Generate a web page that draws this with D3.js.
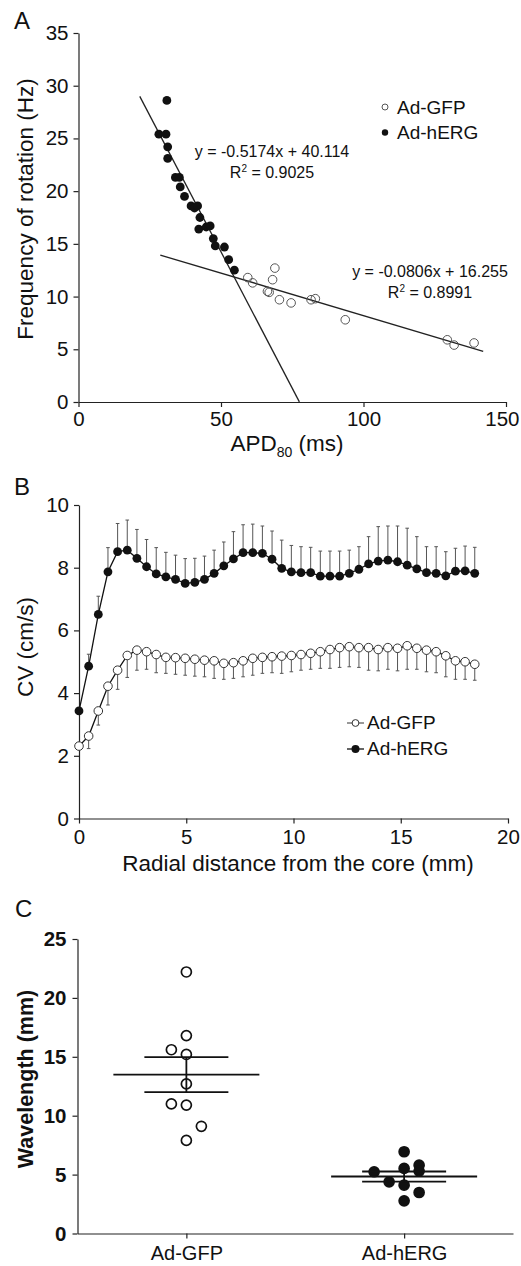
<!DOCTYPE html>
<html>
<head>
<meta charset="utf-8">
<script src="https://cdn.jsdelivr.net/npm/d3@7"></script>
<style>
body { margin: 0; background: #fff; }
svg { display: block; font-family: "Liberation Sans", Arial, sans-serif; }
.axis path, .axis line { stroke: #222; stroke-width: 1.2; }
.axis text { fill: #111; font-size: 20.5px; font-family: "Liberation Sans", Arial, sans-serif; }
.boldticks text { font-weight: bold; }
</style>
</head>
<body>
<div id="chart"></div>
<script>
/*
 Panel A - frequency of rotation vs APD80
 */
var hergApd  = [31.0, 28.2, 30.7, 31.3, 31.3, 34.0, 35.4, 35.7, 37.2, 39.5, 40.7, 41.8, 42.6, 42.2, 44.8, 46.2, 47.3, 48.0, 51.2, 52.7, 54.7];
var hergFreq = [28.6, 25.4, 25.4, 24.2, 23.1, 21.3, 21.3, 20.4, 19.5, 18.6, 18.4, 18.6, 17.5, 16.4, 16.6, 16.7, 15.5, 14.8, 14.7, 13.5, 12.5];
var gfpApd   = [59.4, 61.1, 68.9, 68.1, 66.3, 66.9, 70.5, 74.6, 81.6, 83.1, 93.6, 129.4, 131.8, 138.8];
var gfpFreq  = [11.8, 11.3, 12.7, 11.6, 10.5, 10.4, 9.7, 9.4, 9.7, 9.8, 7.8, 5.9, 5.4, 5.6];

// linear fits: [hERG, GFP]
var fitSlope     = [-0.5174, -0.0806];
var fitIntercept = [40.114, 16.255];
var fitFrom      = [21.5, 28.7];
var fitTo        = [77.5, 142];
var fitEq        = ["y = -0.5174x + 40.114", "y = -0.0806x + 16.255"];
var fitR2        = ["0.9025", "0.8991"];

var aXTicks = [0, 50, 100, 150];
var aYTicks = [0, 5, 10, 15, 20, 25, 30, 35];

/*
 Panel B - CV vs radial distance
 */
var dist = [0, 0.45, 0.9, 1.35, 1.8, 2.25, 2.7, 3.15, 3.6, 4.05, 4.5, 4.95, 5.4, 5.85, 6.3, 6.75, 7.2, 7.65, 8.1, 8.55, 9,
            9.45, 9.9, 10.35, 10.8, 11.25, 11.7, 12.15, 12.6, 13.05, 13.5, 13.95, 14.4, 14.85, 15.3, 15.75, 16.2, 16.65, 17.1, 17.55, 18, 18.45];
var hergCV  = [3.43, 4.86, 6.51, 7.87, 8.51, 8.56, 8.30, 8.03, 7.80, 7.71, 7.63, 7.50, 7.53, 7.63, 7.82, 8.06, 8.28, 8.48, 8.48, 8.46, 8.27,
               7.98, 7.87, 7.84, 7.84, 7.73, 7.73, 7.73, 7.82, 7.95, 8.12, 8.21, 8.24, 8.19, 8.08, 7.96, 7.84, 7.82, 7.74, 7.89, 7.90, 7.82];
var hergSem = [0.10, 0.38, 0.58, 0.77, 0.90, 0.96, 0.92, 0.87, 0.84, 0.78, 0.77, 0.79, 0.77, 0.74, 0.74, 0.76, 0.87, 0.89, 0.91, 0.87, 0.90,
               0.90, 0.84, 0.83, 0.81, 0.80, 0.80, 0.80, 0.74, 0.72, 0.87, 1.10, 1.09, 1.14, 1.18, 1.03, 0.83, 0.85, 0.77, 0.73, 0.79, 0.83];
var gfpCV   = [2.31, 2.63, 3.43, 4.22, 4.73, 5.20, 5.37, 5.32, 5.23, 5.14, 5.13, 5.11, 5.08, 5.05, 5.03, 4.95, 4.97, 5.03, 5.11, 5.14, 5.16,
               5.18, 5.20, 5.23, 5.27, 5.32, 5.39, 5.45, 5.48, 5.45, 5.45, 5.39, 5.45, 5.43, 5.51, 5.43, 5.37, 5.32, 5.19, 5.03, 5.00, 4.92];
var gfpSem  = [0.10, 0.40, 0.45, 0.60, 0.61, 0.70, 0.64, 0.56, 0.58, 0.51, 0.53, 0.54, 0.54, 0.53, 0.56, 0.51, 0.50, 0.51, 0.54, 0.51, 0.51,
               0.55, 0.52, 0.50, 0.51, 0.53, 0.60, 0.63, 0.64, 0.63, 0.72, 0.68, 0.69, 0.72, 0.75, 0.67, 0.69, 0.67, 0.67, 0.59, 0.56, 0.51];

var bXTicks = [0, 5, 10, 15, 20];
var bYTicks = [0, 2, 4, 6, 8, 10];

/*
 Panel C - wavelength
 */
var groups = ["Ad-GFP", "Ad-hERG"];
var gfpWL   = [22.2, 16.8, 15.6, 15.2, 12.7, 11.0, 10.9, 9.1, 7.9];
var gfpCol  = [0, 0, -1, 0, 0, -1, 0, 1, 0];   // dot column inside the group
var hergWL  = [6.94, 5.24, 5.52, 5.80, 5.30, 4.39, 4.10, 3.48, 2.77];
var hergCol = [0, -2, 0, 1, 1, -1, 0, 1, 0];
var cYTicks = [0, 5, 10, 15, 20, 25];

var svg = d3.select("#chart")
    .append("svg")
    .attr("width", 521)
    .attr("height", 1266);

svg.append("rect").attr("width", 521).attr("height", 1266).attr("fill", "#fff");

function label(x, y, txt, size, weight) {
    return svg.append("text")
        .attr("x", x).attr("y", y)
        .style("font-size", size + "px")
        .style("font-weight", weight || "normal")
        .style("fill", "#111")
        .text(txt);
}

// ---------------- A ----------------
var xA = d3.scaleLinear().domain([0, 150]).range([78.5, 506]);
var yA = d3.scaleLinear().domain([0, 35]).range([402, 33]);

var xAxisA = svg.append("g").attr("class", "axis")
    .attr("transform", "translate(0,402)")
    .call(d3.axisBottom(xA).tickValues(aXTicks).tickSize(5).tickSizeOuter(0).tickPadding(4));
// last label sits against the right edge
xAxisA.selectAll(".tick text")
    .filter(function(d) { return d === 150; })
    .attr("text-anchor", "end")
    .attr("dx", 13);
svg.append("g").attr("class", "axis")
    .attr("transform", "translate(78.5,0)")
    .call(d3.axisLeft(yA).tickValues(aYTicks).tickSize(5).tickSizeOuter(0).tickPadding(5));

label(14, 29, "A", 24);
label(0, 0, "Frequency of rotation (Hz)", 22.5)
    .attr("transform", "translate(33,209) rotate(-90)")
    .attr("x", 0).attr("y", 0)
    .attr("text-anchor", "middle");

var apdTitle = label(287, 451, "APD", 22.5).attr("text-anchor", "middle");
apdTitle.append("tspan").attr("dy", 6).style("font-size", "14px").text("80");
apdTitle.append("tspan").attr("dy", -6).text(" (ms)");

// fit lines
var lineA = d3.line().x(function(d) { return xA(d[0]); }).y(function(d) { return yA(d[1]); });
fitSlope.forEach(function(s, i) {
    var pts = [fitFrom[i], fitTo[i]].map(function(x) { return [x, s * x + fitIntercept[i]]; });
    svg.append("path")
        .attr("d", lineA(pts))
        .attr("fill", "none")
        .attr("stroke", "#222")
        .attr("stroke-width", 1.3);
});

svg.selectAll(".gfpA")
    .data(gfpApd)
    .enter()
    .append("circle")
    .attr("cx", function(d) { return xA(d); })
    .attr("cy", function(d, i) { return yA(gfpFreq[i]); })
    .attr("r", 4.3)
    .attr("fill", "none")
    .attr("stroke", "#555")
    .attr("stroke-width", 1);

svg.selectAll(".hergA")
    .data(hergApd)
    .enter()
    .append("circle")
    .attr("cx", function(d) { return xA(d); })
    .attr("cy", function(d, i) { return yA(hergFreq[i]); })
    .attr("r", 4.4)
    .attr("fill", "#111");

// equations
var eqX = [272, 430];
var eqY = [157, 277];
fitEq.forEach(function(eq, i) {
    label(eqX[i], eqY[i], eq, 16).attr("text-anchor", "middle");
    var r2 = label(eqX[i], eqY[i] + 21, "R", 16).attr("text-anchor", "middle");
    r2.append("tspan").attr("dy", -6).style("font-size", "10px").text("2");
    r2.append("tspan").attr("dy", 6).text(" = " + fitR2[i]);
});

// legend A
svg.append("circle").attr("cx", 385).attr("cy", 107).attr("r", 3).attr("fill", "none").attr("stroke", "#555");
svg.append("circle").attr("cx", 385).attr("cy", 132.5).attr("r", 3.2).attr("fill", "#111");
label(397, 114, "Ad-GFP", 19);
label(397, 139, "Ad-hERG", 19);

// ---------------- B ----------------
var xB = d3.scaleLinear().domain([0, 20]).range([79, 508]);
var yB = d3.scaleLinear().domain([0, 10]).range([818.5, 505]);

svg.append("g").attr("class", "axis")
    .attr("transform", "translate(0,818.5)")
    .call(d3.axisBottom(xB).tickValues(bXTicks).tickSize(5).tickSizeOuter(0).tickPadding(6));
svg.append("g").attr("class", "axis")
    .attr("transform", "translate(79,0)")
    .call(d3.axisLeft(yB).tickValues(bYTicks).tickSize(5).tickSizeOuter(0).tickPadding(5));

label(14, 495, "B", 24);
label(0, 0, "CV (cm/s)", 22.5)
    .attr("transform", "translate(33,647) rotate(-90)")
    .attr("text-anchor", "middle");
label(298, 871, "Radial distance from the core (mm)", 22.5).attr("text-anchor", "middle");

// error bars: hERG up, GFP down
function errBars(vals, sems, dir) {
    var g = svg.append("g").attr("stroke", "#555").attr("stroke-width", 1);
    vals.forEach(function(v, i) {
        var x = xB(dist[i]);
        var yEnd = yB(v + dir * sems[i]);
        g.append("line").attr("x1", x).attr("x2", x).attr("y1", yB(v)).attr("y2", yEnd);
        g.append("line").attr("x1", x - 1.8).attr("x2", x + 1.8).attr("y1", yEnd).attr("y2", yEnd);
    });
}
errBars(hergCV, hergSem, 1);
errBars(gfpCV, gfpSem, -1);

var lineB = d3.line()
    .x(function(d, i) { return xB(dist[i]); })
    .y(function(d) { return yB(d); });

[gfpCV, hergCV].forEach(function(series) {
    svg.append("path")
        .attr("d", lineB(series))
        .attr("fill", "none")
        .attr("stroke", "#111")
        .attr("stroke-width", 1.3);
});

svg.selectAll(".gfpB")
    .data(gfpCV)
    .enter()
    .append("circle")
    .attr("cx", function(d, i) { return xB(dist[i]); })
    .attr("cy", function(d) { return yB(d); })
    .attr("r", 4.3)
    .attr("fill", "#fff")
    .attr("stroke", "#333")
    .attr("stroke-width", 1);

svg.selectAll(".hergB")
    .data(hergCV)
    .enter()
    .append("circle")
    .attr("cx", function(d, i) { return xB(dist[i]); })
    .attr("cy", function(d) { return yB(d); })
    .attr("r", 4.4)
    .attr("fill", "#111");

// legend B
svg.append("line").attr("x1", 347).attr("x2", 364).attr("y1", 723).attr("y2", 723).attr("stroke", "#333");
svg.append("circle").attr("cx", 355.5).attr("cy", 723).attr("r", 3.4).attr("fill", "#fff").attr("stroke", "#333");
svg.append("line").attr("x1", 347).attr("x2", 364).attr("y1", 749).attr("y2", 749).attr("stroke", "#111").attr("stroke-width", 1.3);
svg.append("circle").attr("cx", 355.5).attr("cy", 749).attr("r", 4).attr("fill", "#111");
label(367, 729, "Ad-GFP", 19);
label(367, 755, "Ad-hERG", 19);

// ---------------- C ----------------
var xC = d3.scalePoint().domain(groups).range([77.5, 513]).padding(0.5);
var yC = d3.scaleLinear().domain([0, 25]).range([1233.5, 939]);
var colW = 15;

svg.append("g").attr("class", "axis")
    .attr("transform", "translate(0,1233.5)")
    .call(d3.axisBottom(xC).tickSize(5).tickSizeOuter(0).tickPadding(7))
    .selectAll("text").style("font-size", "20px");
svg.append("g").attr("class", "axis boldticks")
    .attr("transform", "translate(77.5,0)")
    .call(d3.axisLeft(yC).tickValues(cYTicks).tickSize(5).tickSizeOuter(0).tickPadding(6));

label(15, 917, "C", 24);
label(0, 0, "Wavelength (mm)", 21.5, "bold")
    .attr("transform", "translate(33,1079) rotate(-90)")
    .attr("text-anchor", "middle");

var cGroups = [
    { name: groups[0], vals: gfpWL, cols: gfpCol, fill: "#fff" },
    { name: groups[1], vals: hergWL, cols: hergCol, fill: "#111" }
];

cGroups.forEach(function(grp) {
    var cx = xC(grp.name);
    var m = d3.mean(grp.vals);
    var sem = d3.deviation(grp.vals) / Math.sqrt(grp.vals.length);

    svg.selectAll(null)
        .data(grp.vals)
        .enter()
        .append("circle")
        .attr("cx", function(d, i) { return cx + grp.cols[i] * colW; })
        .attr("cy", function(d) { return yC(d); })
        .attr("r", 5)
        .attr("fill", grp.fill)
        .attr("stroke", "#111")
        .attr("stroke-width", 1.7);

    var g = svg.append("g").attr("stroke", "#111").attr("stroke-width", 1.8);
    g.append("line").attr("x1", cx - 73).attr("x2", cx + 73).attr("y1", yC(m)).attr("y2", yC(m));
    g.append("line").attr("x1", cx - 42).attr("x2", cx + 42).attr("y1", yC(m + sem)).attr("y2", yC(m + sem));
    g.append("line").attr("x1", cx - 42).attr("x2", cx + 42).attr("y1", yC(m - sem)).attr("y2", yC(m - sem));
    g.append("line").attr("x1", cx).attr("x2", cx).attr("y1", yC(m + sem)).attr("y2", yC(m - sem));
});
</script>
</body>
</html>
